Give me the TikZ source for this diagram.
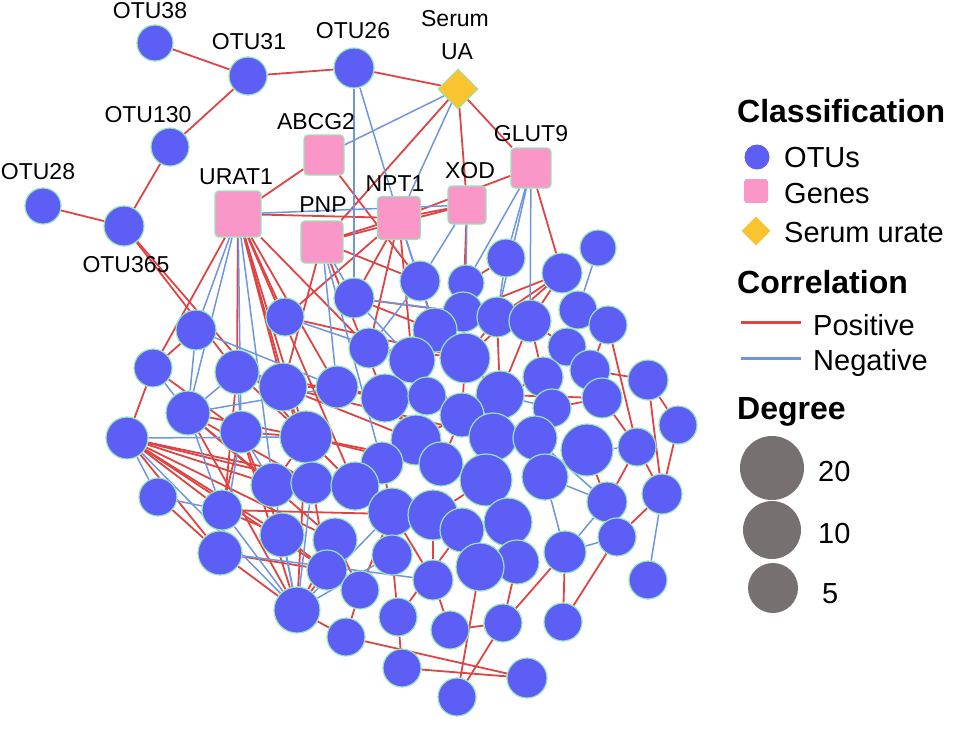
\documentclass[tikz,border=0pt]{standalone}
\usepackage{fontspec}
\setmainfont{Liberation Sans}
\usetikzlibrary{shapes.geometric}
\pgfdeclarelayer{edges}
\pgfsetlayers{edges,main}
\definecolor{otublue}{RGB}{92,94,245}
\definecolor{genepink}{RGB}{250,150,200}
\definecolor{uagold}{RGB}{250,196,48}
\definecolor{rimgreen}{RGB}{150,228,180}
\definecolor{posred}{RGB}{222,68,68}
\definecolor{negblue}{RGB}{110,150,220}
\definecolor{keygray}{RGB}{118,113,112}

\begin{document}
\begin{tikzpicture}[x=1pt, y=-1pt,
    otu/.style={circle, fill=otublue, draw=rimgreen, line width=1.2pt, inner sep=0pt},
    gene/.style={rectangle, rounded corners=4pt, fill=genepink, draw=rimgreen, line width=1.2pt, inner sep=0pt},
    urate/.style={diamond, fill=uagold, draw=rimgreen, line width=1pt, inner sep=0pt},
    posedge/.style={draw=posred, line width=1.8pt},
    negedge/.style={draw=negblue, line width=1.5pt},
    lbl/.style={anchor=base, font=\fontsize{23}{23}\selectfont, inner sep=0pt},
    keytext/.style={anchor=base west, font=\fontsize{29}{29}\selectfont, inner sep=0pt},
    keyhead/.style={anchor=base west, font=\fontsize{32}{32}\selectfont\bfseries, inner sep=0pt},
    degreedot/.style={circle, fill=keygray, inner sep=0pt}]
    \useasboundingbox (0,0) rectangle (962,732);

    % otus
    \foreach \n/\x/\y/\r in {otu38/155/43/18, otu31/248/76/19, otu26/354/68/20, otu130/170/147/19,
        otu28/43/206/18, otu365/124/226/20,
        o1/598/248/18, o2/562/273/20, o3/506/258/19, o4/466/283/18, o5/420/281/20, o6/354/298/20,
        o7/285/317/19, o8/196/330/20, o9/369/348/20, o10/463/312/20, o11/497/317/20, o12/530/321/21,
        o13/578/310/19, o14/608/325/19, o15/435/330/22, o16/567/347/19, o17/412/360/23, o18/465/358/25,
        o19/590/370/20, o20/543/377/20, o21/648/380/20, o22/153/368/19, o23/237/372/22, o24/283/387/24,
        o25/337/387/21, o26/385/398/24, o27/427/396/19, o28/500/395/24, o29/602/398/20, o30/552/408/19,
        o31/462/415/22, o32/188/413/22, o33/678/425/19, o34/127/438/21, o35/241/432/21, o36/306/437/26,
        o37/416/440/25, o38/493/437/24, o39/535/438/22, o40/587/450/26, o41/637/447/19, o42/382/463/21,
        o43/441/464/22, o44/486/480/26, o45/545/477/23, o46/607/502/20, o47/662/494/20, o48/158/497/19,
        o49/273/485/22, o50/312/483/21, o51/355/486/24, o52/222/510/20, o53/392/512/24, o54/433/515/25,
        o55/462/530/22, o56/508/522/24, o57/617/537/19, o58/282/535/22, o59/335/540/22, o60/220/553/22,
        o61/392/555/20, o62/565/552/21, o63/517/562/22, o64/480/567/24, o65/327/570/20, o66/433/580/20,
        o67/360/590/19, o68/648/580/19, o69/297/610/23, o70/398/617/19, o71/450/630/19, o72/503/623/19,
        o73/563/622/19, o74/346/637/19, o75/402/668/19, o76/527/678/20, o77/457/697/19}
        \node[otu, minimum size=2*\r] (\n) at (\x,\y) {};

    % genes and serum urate
    \node[gene, minimum size=40] (abcg2) at (324,155) {};
    \node[gene, minimum size=46] (urat1) at (238,214) {};
    \node[gene, minimum size=42] (pnp) at (322,242) {};
    \node[gene, minimum size=43] (npt1) at (399,218) {};
    \node[gene, minimum size=38] (xod) at (467,205) {};
    \node[gene, minimum size=40] (glut9) at (531,168) {};
    \node[urate, minimum size=40] (ua) at (458,89) {};

    \begin{pgfonlayer}{edges}
    \foreach \a/\b in {otu38/otu31, otu31/otu26, otu31/otu130, otu26/ua, otu130/otu365, otu28/otu365,
        otu365/o23, otu365/o36, ua/pnp, ua/xod, ua/glut9, abcg2/urat1, abcg2/o5, urat1/npt1, pnp/npt1,
        pnp/xod, npt1/xod, npt1/glut9, urat1/o22, urat1/o23, urat1/o24, urat1/o7, urat1/o36, urat1/o25,
        urat1/o50, urat1/o9, urat1/o51, pnp/o24, pnp/o26, pnp/o5, npt1/o7, npt1/o6, npt1/o9, npt1/o17,
        xod/o10, glut9/o2, o8/o22, o22/o34, o22/o35, o23/o60, o23/o36, o34/o50, o34/o49, o34/o59,
        o34/o65, o34/o52, o34/o60, o34/o58, o34/o51, o32/o36, o32/o50, o32/o49, o32/o59, o35/o36,
        o35/o52, o35/o58, o48/o60, o52/o54, o52/o58, o60/o69, o60/o65, o69/o59, o69/o65, o69/o74,
        o69/o32, o69/o35, o69/o36, o74/o67, o74/o76, o75/o76, o75/o70, o77/o64, o77/o72, o71/o66,
        o71/o72, o72/o62, o72/o63, o73/o57, o73/o62, o70/o61, o70/o55, o66/o54, o66/o53, o67/o59,
        o67/o53, o65/o58, o65/o50, o57/o47, o47/o33, o47/o21, o47/o41, o33/o21, o14/o41, o21/o19,
        o41/o46, o41/o29, o46/o40, o2/o11, o2/o12, o2/o18, o2/o10, o3/o4, o10/o18, o15/o18, o17/o26,
        o17/o27, o18/o28, o18/o31, o26/o37, o27/o31, o28/o38, o31/o37, o31/o43, o37/o43, o37/o42,
        o38/o44, o39/o45, o40/o45, o43/o44, o44/o54, o44/o56, o42/o53, o53/o54, o54/o55, o55/o64,
        o56/o63, o36/o51, o51/o53, o50/o51, o49/o50, o36/o49, o24/o25, o24/o36, o25/o26, o20/o28,
        o20/o30, o12/o20, o12/o16, o19/o29, o29/o30, o30/o39, o38/o39, o28/o29, o5/o15, o10/o15,
        o11/o18, o12/o28, o14/o19, o16/o19, o24/o37, o24/o38, o36/o44, o36/o43, o23/o26, o11/o6,
        o6/o15, o9/o18, o7/o18, o25/o31, o26/o43, o17/o31, o11/o28}
        \draw[posedge] (\a) -- (\b);
    \foreach \a/\b in {otu26/npt1, otu26/o6, ua/abcg2, ua/npt1, urat1/xod, urat1/o8, urat1/o32,
        urat1/o35, urat1/o49, pnp/o6, pnp/o25, pnp/o42, npt1/o5, npt1/o15, xod/o5, xod/o4, glut9/o3,
        glut9/o11, glut9/o4, glut9/o12, o1/o13, o8/o32, o8/o25, o22/o32, o23/o32, o23/o35, o35/o49,
        o35/o60, o34/o36, o34/o48, o34/o69, o32/o52, o32/o25, o48/o52, o52/o69, o60/o66, o69/o58,
        o69/o61, o69/o53, o69/o49, o69/o50, o68/o47, o57/o46, o57/o62, o41/o40, o46/o45, o46/o62,
        o3/o11, o7/o17, o9/o5, o6/o10, o6/o17, o9/o17, o28/o30, o16/o20, o45/o62, o39/o46}
        \draw[negedge] (\a) -- (\b);
    \end{pgfonlayer}

    % labels
    \node[lbl] (t-otu38) at (150,18) {OTU38};
    \node[lbl] (t-otu31) at (249,49) {OTU31};
    \node[lbl] (t-otu26) at (353,38) {OTU26};
    \node[lbl] (t-serum) at (455,26) {Serum};
    \node[lbl] (t-ua) at (457,59) {UA};
    \node[lbl] (t-otu130) at (148,122) {OTU130};
    \node[lbl] (t-abcg2) at (316,129) {ABCG2};
    \node[lbl] (t-otu28) at (38,179) {OTU28};
    \node[lbl] (t-urat1) at (236,184) {URAT1};
    \node[lbl] (t-npt1) at (395,191) {NPT1};
    \node[lbl] (t-pnp) at (323,212) {PNP};
    \node[lbl] (t-xod) at (470,178) {XOD};
    \node[lbl] (t-glut9) at (531,141) {GLUT9};
    \node[lbl] (t-otu365) at (126,272) {OTU365};

    % legend
    \node[keyhead] (h-class) at (737,122) {Classification};
    \node[otu, draw=none, minimum size=25] (k-otu) at (757,157) {};
    \node[keytext] (k-otu-t) at (784,167) {OTUs};
    \node[gene, draw=none, rounded corners=3pt, minimum size=24] (k-gene) at (756,191) {};
    \node[keytext] (k-gene-t) at (784,203) {Genes};
    \node[urate, draw=none, minimum size=29] (k-ua) at (756,231) {};
    \node[keytext] (k-ua-t) at (784,242) {Serum urate};
    \node[keyhead] (h-corr) at (737,293) {Correlation};
    \coordinate (k-pos-a) at (741,322);
    \coordinate (k-pos-b) at (801,322);
    \draw[posedge, line width=3pt] (k-pos-a) -- (k-pos-b);
    \node[keytext] (k-pos-t) at (813,335) {Positive};
    \coordinate (k-neg-a) at (741,358);
    \coordinate (k-neg-b) at (801,358);
    \draw[negedge, line width=3pt] (k-neg-a) -- (k-neg-b);
    \node[keytext] (k-neg-t) at (813,370) {Negative};
    \node[keyhead] (h-deg) at (737,419) {Degree};
    \node[degreedot, minimum size=64] (k-d20) at (772,468) {};
    \node[keytext] (k-d20-t) at (818,481) {20};
    \node[degreedot, minimum size=58] (k-d10) at (772,530) {};
    \node[keytext] (k-d10-t) at (818,543) {10};
    \node[degreedot, minimum size=50] (k-d5) at (773,588) {};
    \node[keytext] (k-d5-t) at (822,603) {5};
\end{tikzpicture}
\end{document}
